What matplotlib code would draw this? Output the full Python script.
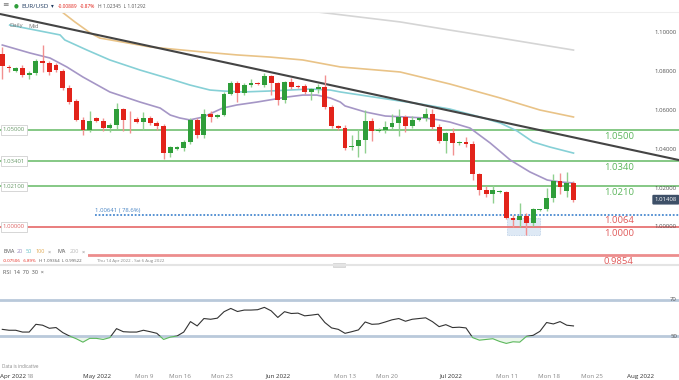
import numpy as np
import matplotlib
matplotlib.use("Agg")
import matplotlib.pyplot as plt
from matplotlib import transforms
from matplotlib.patches import Rectangle

plt.rcParams['font.family'] = ['Open Sans', 'DejaVu Sans']

# daily candles, EUR/USD, Thu 14 Apr 2022 .. Fri 22 Jul 2022 (IG style: Sunday bars included)
opens = [1.0892, 1.0826, 1.0804, 1.0821, 1.0784, 1.0792, 1.0856, 1.0844, 1.0835, 1.0806,
         1.0716, 1.0649, 1.0552, 1.0500, 1.0562, 1.0546, 1.0510, 1.0526, 1.0608, 1.0552,
         1.0557, 1.0541, 1.0562, 1.0536, 1.0521, 1.0381, 1.0401, 1.0406, 1.0440, 1.0552,
         1.0474, 1.0582, 1.0569, 1.0577, 1.0686, 1.0744, 1.0692, 1.0732, 1.0741, 1.0732,
         1.0778, 1.0741, 1.0655, 1.0749, 1.0727, 1.0727, 1.0697, 1.0710, 1.0723, 1.0620,
         1.0521, 1.0509, 1.0410, 1.0420, 1.0446, 1.0547, 1.0495, 1.0500, 1.0513, 1.0535,
         1.0567, 1.0522, 1.0552, 1.0560, 1.0583, 1.0518, 1.0443, 1.0483, 1.0431, 1.0440,
         1.0430, 1.0273, 1.0191, 1.0170, 1.0182, 1.0179, 1.0045, 1.0036, 1.0057, 1.0019,
         1.0088, 1.0091, 1.0148, 1.0239, 1.0187, 1.0228]
highs = [1.0926, 1.0835, 1.0826, 1.0836, 1.0806, 1.0866, 1.0938, 1.0854, 1.0845, 1.0812,
         1.0730, 1.0660, 1.0565, 1.0598, 1.0568, 1.0560, 1.0535, 1.0640, 1.0612, 1.0598,
         1.0565, 1.0594, 1.0572, 1.0545, 1.0530, 1.0420, 1.0415, 1.0446, 1.0560, 1.0562,
         1.0608, 1.0600, 1.0582, 1.0695, 1.0750, 1.0750, 1.0740, 1.0761, 1.0745, 1.0792,
         1.0785, 1.0745, 1.0755, 1.0766, 1.0730, 1.0735, 1.0715, 1.0735, 1.0784, 1.0630,
         1.0525, 1.0524, 1.0474, 1.0505, 1.0601, 1.0560, 1.0510, 1.0545, 1.0582, 1.0606,
         1.0575, 1.0570, 1.0565, 1.0615, 1.0606, 1.0532, 1.0488, 1.0509, 1.0445, 1.0463,
         1.0445, 1.0277, 1.0210, 1.0215, 1.0190, 1.0186, 1.0062, 1.0125, 1.0070, 1.0097,
         1.0094, 1.0200, 1.0273, 1.0277, 1.0285, 1.02345]
lows = [1.0761, 1.0801, 1.0800, 1.0773, 1.0763, 1.0783, 1.0801, 1.0784, 1.0797, 1.0705,
        1.0635, 1.0545, 1.0474, 1.0490, 1.0540, 1.0495, 1.0492, 1.0505, 1.0495, 1.0486,
        1.0535, 1.0500, 1.0525, 1.0500, 1.0350, 1.0360, 1.0395, 1.0390, 1.0430, 1.0460,
        1.0460, 1.0543, 1.0560, 1.0570, 1.0680, 1.0646, 1.0680, 1.0720, 1.0730, 1.0720,
        1.0680, 1.0629, 1.0640, 1.0710, 1.0715, 1.0685, 1.0655, 1.0690, 1.0610, 1.0510,
        1.0500, 1.0398, 1.0397, 1.0359, 1.0382, 1.0445, 1.0488, 1.0482, 1.0505, 1.0470,
        1.0490, 1.0510, 1.0548, 1.0545, 1.0503, 1.0431, 1.0382, 1.0371, 1.0425, 1.0410,
        1.0242, 1.0165, 1.0156, 1.0122, 1.0175, 1.0040, 1.0002, 0.9999, 0.9959, 1.0005,
        1.0085, 1.0080, 1.0130, 1.0170, 1.0153, 1.01292]
closes = [1.0829, 1.0820, 1.0821, 1.0784, 1.0792, 1.0857, 1.0844, 1.0801, 1.0809, 1.0715,
          1.0644, 1.0552, 1.0500, 1.0546, 1.0546, 1.0510, 1.0526, 1.0608, 1.0552, 1.0550,
          1.0541, 1.0562, 1.0536, 1.0521, 1.0381, 1.0412, 1.0411, 1.0440, 1.0552, 1.0474,
          1.0582, 1.0565, 1.0577, 1.0686, 1.0744, 1.0692, 1.0732, 1.0741, 1.0736, 1.0778,
          1.0741, 1.0655, 1.0749, 1.0723, 1.0720, 1.0694, 1.0709, 1.0723, 1.0620, 1.0521,
          1.0509, 1.0408, 1.0420, 1.0446, 1.0547, 1.0495, 1.0500, 1.0513, 1.0535, 1.0567,
          1.0522, 1.0552, 1.0560, 1.0583, 1.0518, 1.0443, 1.0484, 1.0431, 1.0440, 1.0430,
          1.0273, 1.0191, 1.0170, 1.0191, 1.0182, 1.0045, 1.0036, 1.0057, 1.0019, 1.0091,
          1.0091, 1.0148, 1.0239, 1.0205, 1.0228, 1.01408]

# moving averages as (bar, price)
ema20_x = [0, 4.1, 7.1, 9.6, 12, 16, 20.5, 23.5, 25, 26.4, 27.9, 29.9, 32.8, 34.9, 37.9, 39.8,
           42.4, 44.7, 46.8, 48.8, 50.3, 51, 54, 57, 60, 62.9, 65, 66.6, 69.6, 72.6, 75.6,
           78.5, 81.1, 83, 85]
ema20_y = [1.0938, 1.0897, 1.0871, 1.0825, 1.0773, 1.0696, 1.0644, 1.0613, 1.0577, 1.0562,
           1.0552, 1.0567, 1.0613, 1.0629, 1.0644, 1.0655, 1.0670, 1.0680, 1.0680, 1.0665,
           1.0644, 1.0624, 1.0593, 1.0572, 1.0567, 1.0562, 1.0552, 1.0541, 1.0510, 1.0433,
           1.0345, 1.0284, 1.0242, 1.0232, 1.0227]
ema50_x = [1.1, 8.6, 9.3, 12.6, 16, 20.5, 25, 27.9, 30.9, 32.8, 35.8, 39.8, 42.8, 45.8, 48.8,
           50.3, 56.2, 62.2, 66.6, 71.1, 74.1, 76.6, 79, 81.5, 85]
ema50_y = [1.1041, 1.0990, 1.0964, 1.0912, 1.0861, 1.0809, 1.0763, 1.0732, 1.0706, 1.0701,
           1.0696, 1.0701, 1.0706, 1.0711, 1.0706, 1.0696, 1.0665, 1.0634, 1.0608, 1.0567,
           1.0536, 1.0495, 1.0438, 1.0412, 1.0381]
ema100_x = [8.9, 10.8, 13.1, 14.5, 22, 29.9, 34.9, 39.8, 44.7, 50.3, 59.2, 66.6, 74.1, 80, 85]
ema100_y = [1.1108, 1.1057, 1.1000, 1.0974, 1.0928, 1.0902, 1.0887, 1.0876, 1.0861, 1.0825,
            1.0799, 1.0737, 1.0665, 1.0603, 1.0567]
ma200_x = [47, 59.2, 66.6, 74.1, 85]
ma200_y = [1.1108, 1.1057, 1.1015, 1.0974, 1.0912]
trend_x = [-0.34, 100.7]
trend_y = [1.1098, 1.0345]

# horizontal levels
green_levels = [1.0500, 1.0340, 1.0210]
green_left = ["1.05000", "1.03401", "1.02100"]
red_levels = [1.0000, 0.9854]
fib_level = 1.00641
right_ticks = [1.10, 1.08, 1.06, 1.04, 1.02, 1.00]
last_price = 1.01408
parity_box = (75.1, 80.0, 0.99588, 1.00464)

rsi = [53.7, 53.2, 53.2, 52.2, 52.2, 56.5, 56.0, 54.3, 54.7, 51.9,
       50.0, 48.5, 46.6, 48.7, 48.7, 48.1, 49.1, 54.1, 52.4, 52.2,
       52.2, 53.2, 52.4, 51.5, 48.1, 49.4, 50.0, 52.2, 58.0, 55.6,
       59.7, 59.3, 59.9, 63.5, 65.3, 63.6, 64.4, 64.4, 64.6, 65.9,
       64.0, 60.3, 63.5, 62.5, 62.7, 61.2, 61.6, 62.1, 57.5, 54.5,
       53.7, 51.5, 52.4, 53.4, 57.8, 56.5, 56.7, 57.8, 59.0, 59.7,
       58.2, 59.3, 59.7, 60.1, 58.0, 55.2, 56.3, 54.7, 54.9, 54.5,
       49.1, 47.7, 48.1, 48.5, 47.0, 45.9, 46.8, 46.6, 49.8, 50.4,
       52.6, 57.5, 56.7, 58.0, 56.0, 55.6]

tick_pos = [1.55, 4.1, 14.1, 21.1, 26.4, 32.7, 41.0, 51.0, 57.3, 66.8, 75.1, 81.4, 87.8, 94.9]
tick_lab = ["Apr 2022", "18", "May 2022", "Mon 9", "Mon 16", "Mon 23", "Jun 2022", "Mon 13",
            "Mon 20", "Jul 2022", "Mon 11", "Mon 18", "Mon 25", "Aug 2022"]

W, H = 679, 380
UP, DOWN = '#2f9e3a', '#e2231a'
UPW, DOWNW = '#8fd08f', '#f29090'
GREEN_LINE, RED_LINE = '#7cc47c', '#e77373'


def box(top, bottom):
    return [0, 1 - bottom / H, 1, (bottom - top) / H]


def ftext(x, y, s, **kw):
    fig.text(x / W, 1 - y / H, s, va='center', **kw)


fig = plt.figure(figsize=(6.79, 3.8), dpi=100)
rax = fig.add_axes(box(265, 360))
ax = fig.add_axes(box(12, 263))
for a in (ax, rax):
    for s in a.spines.values():
        s.set_visible(False)
    a.set_xlim(-0.342, 100.7)
    a.set_yticks([])
    a.patch.set_visible(False)
ax.set_xticks([])
ax.set_ylim(0.98144, 1.11082)

# levels
for lv in green_levels:
    ax.axhline(lv, color=GREEN_LINE, lw=1.3, zorder=1)
ax.axhline(red_levels[0], color=RED_LINE, lw=1.3, zorder=1)
ax.axhline(red_levels[1], color='#ec8d8d', lw=2, zorder=1)
ax.plot([13.8, 100.7], [fib_level, fib_level], color='#4a8ad0', lw=1.3, ls=(0, (1, 1)), zorder=1)
x0, x1, y0, y1 = parity_box
ax.add_patch(Rectangle((x0, y0), x1 - x0, y1 - y0, fc='#d6e4f3', ec='#a9c3e0', lw=0.6,
                       ls=(0, (1, 1)), alpha=0.8, zorder=0))

# moving averages and trendline
ax.plot(ma200_x, ma200_y, color='#d5d5d5', lw=1.2, zorder=2)
ax.plot(ema100_x, ema100_y, color='#e9c387', lw=1.2, zorder=2)
ax.plot(ema50_x, ema50_y, color='#86d0d6', lw=1.2, zorder=2)
ax.plot(ema20_x, ema20_y, color='#a596c6', lw=1.2, zorder=2)
ax.plot(trend_x, trend_y, color='#444444', lw=1.5, zorder=2)

# candles
k = np.arange(len(closes))
o, h, l, c = map(np.array, (opens, highs, lows, closes))
up = c >= o
ax.vlines(k[up], l[up], h[up], color=UPW, lw=1, zorder=3)
ax.vlines(k[~up], l[~up], h[~up], color=DOWNW, lw=1, zorder=3)
body = np.maximum(np.abs(c - o), 0.0003)
ax.bar(k, body, bottom=np.minimum(o, c), width=0.72, color=np.where(up, UP, DOWN), zorder=4)

# level labels
tr = transforms.blended_transform_factory(ax.transAxes, ax.transData)
lbox = dict(boxstyle='square,pad=0.35', fc='white', ec='#d0d0d0', lw=0.6)
for lv, lab in zip(green_levels, green_left):
    ax.text(0.004, lv, lab, transform=tr, fontsize=4.3, color='#6a9a6a', va='center',
            bbox=lbox, zorder=6)
    ax.text(89.5, lv - 0.0008, f"{lv:.4f}", fontsize=6.8, color='#5cb65c', va='top', zorder=6)
ax.text(0.004, red_levels[0], "1.00000", transform=tr, fontsize=4.3, color='#d66', va='center',
        bbox=lbox, zorder=6)
for lv in red_levels:
    ax.text(89.5, lv - 0.0008, f"{lv:.4f}", fontsize=6.8, color='#e05a5a', va='top', zorder=6,
            clip_on=False)
ax.text(89.5, fib_level - 0.0008, "1.0064", fontsize=6.8, color='#e05a5a', va='top', zorder=6)
ax.text(13.8, fib_level + 0.0008, "1.00641 ( 78.6%)", fontsize=4.3, color='#4a86c5',
        va='bottom', zorder=6)

for t in right_ticks:
    ax.text(0.997, t, f"{t:.5f}", transform=tr, fontsize=4.3, color='#555555', ha='right',
            va='center', zorder=6)
ax.text(0.997, last_price, f"{last_price:.5f}", transform=tr, fontsize=4.3, color='white',
        ha='right', va='center', zorder=7,
        bbox=dict(boxstyle='round,pad=0.4,rounding_size=0.2', fc='#3e5068', ec='none'))

# RSI panel
rax.set_ylim(36.7, 89.4)
rax.axhline(70, color='#b9c9da', lw=2)
rax.axhline(50, color='#b9c9da', lw=2)
kr = np.arange(len(rsi))
above, = rax.plot(kr, rsi, color='#333333', lw=0.8)
below, = rax.plot(kr, rsi, color='#5cb85c', lw=0.8)
above.set_clip_path(Rectangle((-1, 50), 120, 60, transform=rax.transData))
below.set_clip_path(Rectangle((-1, 0), 120, 50, transform=rax.transData))
rax.fill_between(kr, rsi, 50, where=np.array(rsi) < 50, interpolate=True,
                 color='#5cb85c', alpha=0.12, lw=0)
tr2 = transforms.blended_transform_factory(rax.transAxes, rax.transData)
for v in (70, 50):
    rax.text(0.997, v, str(v), transform=tr2, fontsize=4.3, color='#555555', ha='right',
             va='center')
rax.set_xticks(tick_pos)
rax.set_xticklabels(tick_lab, fontsize=4.5)
rax.tick_params(axis='x', length=0, pad=9.8)
for lab in rax.get_xticklabels():
    lab.set_color('#333333' if '2022' in lab.get_text() else '#888888')

# header, legends, separators
fig.add_artist(plt.Line2D([0, 1], [1 - 12 / H] * 2, color='#eeeeee', lw=0.8))
fig.add_artist(plt.Line2D([0, 1], [1 - 265 / H] * 2, color='#e4e4e4', lw=1.5))
fig.add_artist(Rectangle((333 / W, 1 - 267 / H), 12 / W, 4 / H, fc='#e0e0e0', ec='#cfcfcf',
                         lw=0.5, transform=fig.transFigure))
ftext(2, 6, "≡", fontsize=5.5, color='#777777')
ftext(14, 6, "●", fontsize=4, color='#2f9e3a')
ftext(21, 6, "EUR/USD", fontsize=4.6, color='#1f3a5f')
ftext(51, 6, "▾", fontsize=4, color='#1f3a5f')
ftext(58, 6, "-0.00889", fontsize=3.5, color='#e2231a')
ftext(80, 6, "-0.87%", fontsize=3.5, color='#e2231a')
ftext(98, 6, "H 1.02345  L 1.01292", fontsize=3.5, color='#555555')
ftext(9, 26, "Daily", fontsize=4.2, color='#777777')
ftext(28, 26, "Mid", fontsize=4.2, color='#777777')

leg_y = 252
fig.add_artist(Rectangle((0, 1 - 257 / H), 88 / W, 10 / H, fc='white', ec='none',
                         transform=fig.transFigure))
ftext(3, leg_y, "EMA", fontsize=4.0, color='#555555')
ftext(17, leg_y, "20", fontsize=4.0, color='#9b8cc0')
ftext(26, leg_y, "50", fontsize=4.0, color='#5fbfc7')
ftext(35, leg_y, "100", fontsize=4.0, color='#e0aa55')
ftext(48, leg_y, "×", fontsize=4.0, color='#888888')
ftext(58, leg_y, "MA", fontsize=4.0, color='#555555')
ftext(70, leg_y, "200", fontsize=4.0, color='#bbbbbb')
ftext(82, leg_y, "×", fontsize=4.0, color='#888888')
ftext(3, 261, "-0.07506", fontsize=3.2, color='#e2231a')
ftext(23, 261, "-6.89%", fontsize=3.2, color='#e2231a')
ftext(39, 261, "H 1.09364", fontsize=3.2, color='#555555')
ftext(62, 261, "L 0.99522", fontsize=3.2, color='#555555')
ftext(97, 261, "Thu 14 Apr 2022 - Sat 6 Aug 2022", fontsize=3.2, color='#888888')
ftext(3, 272, "RSI  14  70  30  ×", fontsize=4.0, color='#555555')
ftext(2, 367, "Data is indicative", fontsize=3.3, color='#888888')

fig.savefig("out.png", dpi=100)
